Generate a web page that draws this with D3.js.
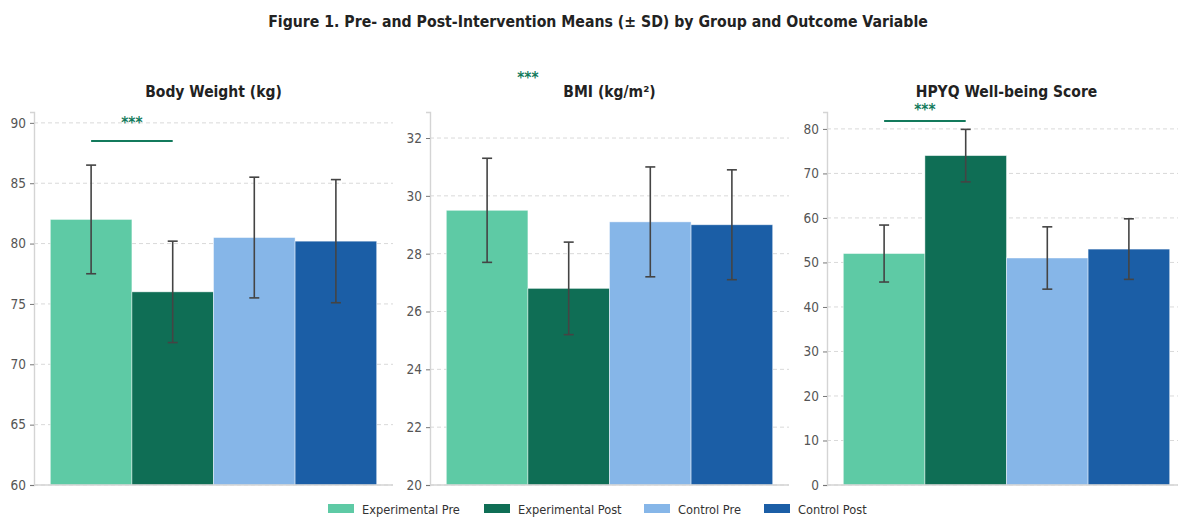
<!DOCTYPE html>
<html>
<head>
<meta charset="utf-8">
<script src="https://cdn.jsdelivr.net/npm/d3@7"></script>
<style>
  html, body { margin: 0; padding: 0; background: #fff; }
  svg { display: block; font-family: "DejaVu Sans Condensed", "DejaVu Sans", sans-serif; }
</style>
</head>
<body>
<svg id="chart" width="1178" height="517"></svg>
<script>
// Groups / time points (one bar each per outcome)
const seriesNames = ["Experimental Pre", "Experimental Post", "Control Pre", "Control Post"];
const seriesColors = ["#5ecaa5", "#0f6e55", "#86b6e8", "#1b5ea6"];

// Outcomes
const outcomes = ["Body Weight (kg)", "BMI (kg/m²)", "HPYQ Well-being Score"];

// Means per outcome, in series order
const weightMeans = [82.0, 76.0, 80.5, 80.2];
const bmiMeans = [29.5, 26.8, 29.1, 29.0];
const hpyqMeans = [52.0, 74.0, 51.0, 53.0];

// Standard deviations per outcome, in series order
const weightSD = [4.5, 4.2, 5.0, 5.1];
const bmiSD = [1.8, 1.6, 1.9, 1.9];
const hpyqSD = [6.4, 5.9, 7.0, 6.8];

// Y-axis ranges and ticks
const yDomains = [[60, 90.9], [20, 32.9], [0, 83.8]];
const yTicks = [[60, 65, 70, 75, 80, 85, 90], [20, 22, 24, 26, 28, 30, 32], [0, 10, 20, 30, 40, 50, 60, 70, 80]];

// Pre vs post significance bracket for the experimental group (line level, label level)
const sigLineY = [88.5, 33.4, 81.8];
const sigTextY = [89.6, 33.9, 83.2];
const sigLabel = "***";

const means = [weightMeans, bmiMeans, hpyqMeans];
const sds = [weightSD, bmiSD, hpyqSD];

const svg = d3.select("#chart");

svg.append("text")
  .attr("x", 598).attr("y", 27)
  .attr("text-anchor", "middle")
  .attr("font-size", 15.7).attr("font-weight", "bold")
  .attr("fill", "#222")
  .text("Figure 1. Pre- and Post-Intervention Means (± SD) by Group and Outcome Variable");

const panelLefts = [34, 430, 827];
const panelWidth = 359;
const plotTop = 112, plotBottom = 485;
const barW = 0.2;
const nBars = seriesNames.length;
const margin = 0.05 * nBars * barW;

outcomes.forEach((title, p) => {
  const g = svg.append("g").attr("transform", `translate(${panelLefts[p]},0)`);
  const x = d3.scaleLinear().domain([-margin, nBars * barW + margin]).range([0, panelWidth]);
  const y = d3.scaleLinear().domain(yDomains[p]).range([plotBottom, plotTop]);

  const clipId = "clip" + p;
  g.append("clipPath").attr("id", clipId)
    .append("rect").attr("x", 0).attr("y", plotTop).attr("width", panelWidth).attr("height", plotBottom - plotTop);

  // grid
  g.append("g").selectAll("line").data(yTicks[p]).join("line")
    .attr("x1", 0).attr("x2", panelWidth)
    .attr("y1", d => y(d)).attr("y2", d => y(d))
    .attr("stroke", "#d9d9d9").attr("stroke-width", 1).attr("stroke-dasharray", "4,3");

  // bars
  const barData = means[p].map((v, i) => ({ v, sd: sds[p][i], i }));
  g.append("g").selectAll("rect").data(barData).join("rect")
    .attr("x", d => x(d.i * barW))
    .attr("width", d => x((d.i + 1) * barW) - x(d.i * barW))
    .attr("y", d => y(d.v))
    .attr("height", d => plotBottom - y(d.v))
    .attr("fill", d => seriesColors[d.i])
    .attr("stroke", "rgba(255,255,255,0.55)").attr("stroke-width", 0.8);

  // error bars
  const eb = g.append("g").selectAll("g").data(barData).join("g")
    .attr("stroke", "#444").attr("stroke-width", 1.6);
  const cx = d => x((d.i + 0.5) * barW);
  eb.append("line").attr("x1", cx).attr("x2", cx)
    .attr("y1", d => y(d.v + d.sd)).attr("y2", d => y(d.v - d.sd));
  eb.append("line").attr("x1", d => cx(d) - 5).attr("x2", d => cx(d) + 5)
    .attr("y1", d => y(d.v + d.sd)).attr("y2", d => y(d.v + d.sd));
  eb.append("line").attr("x1", d => cx(d) - 5).attr("x2", d => cx(d) + 5)
    .attr("y1", d => y(d.v - d.sd)).attr("y2", d => y(d.v - d.sd));

  // significance bracket between experimental pre and post
  const x1 = x(0.5 * barW), x2 = x(1.5 * barW);
  g.append("line").attr("clip-path", `url(#${clipId})`)
    .attr("x1", x1).attr("x2", x2)
    .attr("y1", y(sigLineY[p])).attr("y2", y(sigLineY[p]))
    .attr("stroke", "#137a5c").attr("stroke-width", 2);
  g.append("text")
    .attr("x", (x1 + x2) / 2).attr("y", y(sigTextY[p]))
    .attr("text-anchor", "middle")
    .attr("font-size", 15).attr("font-weight", "bold")
    .attr("fill", "#137a5c")
    .text(sigLabel);

  // axes
  const yAxis = d3.axisLeft(y).tickValues(yTicks[p]).tickSize(4).tickPadding(4).tickFormat(d3.format("d"));
  const ya = g.append("g").call(yAxis);
  ya.select(".domain").attr("stroke", "#d4d4d4").attr("stroke-width", 1.4);
  ya.selectAll(".tick line").attr("stroke", "#777");
  ya.selectAll(".tick text").attr("fill", "#555").attr("font-size", 13.5)
    .attr("font-family", "'DejaVu Sans Condensed', 'DejaVu Sans', sans-serif");
  g.append("line").attr("x1", 0).attr("x2", panelWidth)
    .attr("y1", plotBottom).attr("y2", plotBottom)
    .attr("stroke", "#d4d4d4").attr("stroke-width", 1.4);

  // panel title
  g.append("text")
    .attr("x", panelWidth / 2).attr("y", 97)
    .attr("text-anchor", "middle")
    .attr("font-size", 15.5).attr("font-weight", "bold")
    .attr("fill", "#222")
    .text(title);
});

// legend
const legendX = [328, 484, 644, 764];
const lg = svg.append("g").selectAll("g").data(seriesNames).join("g")
  .attr("transform", (d, i) => `translate(${legendX[i]},504)`);
lg.append("rect").attr("width", 26).attr("height", 9)
  .attr("fill", (d, i) => seriesColors[i]);
lg.append("text").attr("x", 34).attr("y", 9.5)
  .attr("font-size", 12.7).attr("fill", "#333")
  .text(d => d);
</script>
</body>
</html>
